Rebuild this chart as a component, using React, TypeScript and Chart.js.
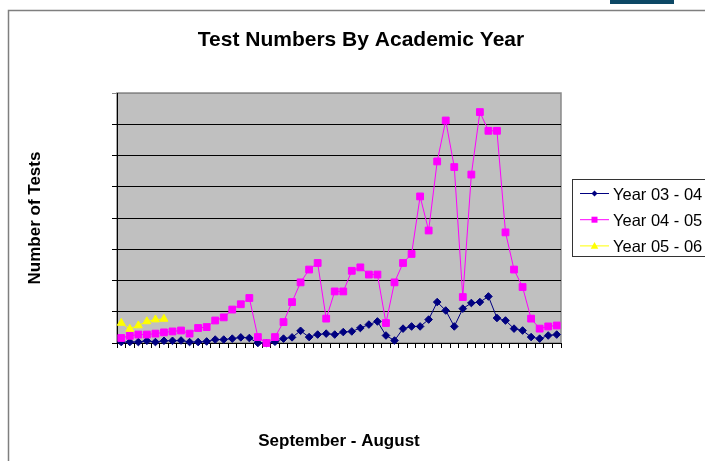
import React, { useEffect, useRef } from "react";
import { Chart, registerables } from "chart.js";

Chart.register(...registerables);

const weeks = [
  "1", "2", "3", "4", "5", "6", "7", "8", "9", "10", "11", "12", "13",
  "14", "15", "16", "17", "18", "19", "20", "21", "22", "23", "24", "25", "26",
  "27", "28", "29", "30", "31", "32", "33", "34", "35", "36", "37", "38", "39",
  "40", "41", "42", "43", "44", "45", "46", "47", "48", "49", "50", "51", "52",
];

const year0304 = [
  0.3, 0.3, 0.3, 0.7, 0.3, 0.7, 0.7, 0.8, 0.3, 0.3, 0.5, 1.1, 1.1, 1.4, 1.8, 1.6,
  0, 0, 0.4, 1.4, 1.8, 3.9, 1.9, 2.7, 3.0, 2.7, 3.5, 3.7, 4.8, 5.9, 6.9, 2.4,
  0.8, 4.6, 5.3, 5.3, 7.5, 13.1, 10.4, 5.3, 11.0, 12.8, 13.1, 14.9, 8.0, 7.2,
  4.6, 4.0, 1.9, 1.4, 2.4, 2.7,
];

const year0405 = [
  1.6, 2.3, 2.7, 2.7, 3.0, 3.4, 3.7, 4.0, 3.0, 4.8, 5.1, 7.2, 8.2, 10.7, 12.4,
  14.4, 1.9, 0, 1.9, 6.7, 13.1, 19.4, 23.5, 25.6, 7.8, 16.5, 16.5, 23.1, 24.2,
  21.9, 21.9, 6.4, 19.4, 25.6, 28.5, 46.9, 36.0, 58.1, 71.2, 56.3, 14.7, 53.9,
  73.9, 67.9, 67.9, 35.4, 23.5, 17.9, 7.8, 4.6, 5.3, 5.6,
];

const year0506 = [6.4, 4.5, 5.6, 6.9, 7.5, 7.7];

const seriesLabels = ["Year 03 - 04", "Year 04 - 05", "Year 05 - 06"];
const seriesColors = ["#000080", "#FF00FF", "#FFFF00"];
const seriesMarkers = ["rectRot", "rect", "triangle"];

const chartTitle = "Test Numbers By Academic Year";
const yTitle = "Number of Tests";
const xTitle = "September - August";

const FONT = '"Liberation Sans", Arial, sans-serif';

function drawMarker(ctx: CanvasRenderingContext2D, style: string, x: number, y: number, r: number, color: string) {
  ctx.save();
  ctx.fillStyle = color;
  ctx.strokeStyle = color;
  ctx.beginPath();
  if (style === "rectRot") {
    ctx.moveTo(x, y - r);
    ctx.lineTo(x + r, y);
    ctx.lineTo(x, y + r);
    ctx.lineTo(x - r, y);
    ctx.closePath();
  } else if (style === "rect") {
    ctx.rect(x - r, y - r, 2 * r, 2 * r);
  } else {
    ctx.moveTo(x, y - r);
    ctx.lineTo(x + r * 0.95, y + r * 0.7);
    ctx.lineTo(x - r * 0.95, y + r * 0.7);
    ctx.closePath();
  }
  ctx.fill();
  ctx.restore();
}

const decorPlugin = {
  id: "decor",
  beforeDraw(chart: any) {
    const ctx = chart.ctx as CanvasRenderingContext2D;
    const { left, top, right, bottom } = chart.chartArea;
    ctx.save();
    ctx.fillStyle = "#ffffff";
    ctx.fillRect(0, 0, chart.width, chart.height);
    // dark tab at top
    ctx.fillStyle = "#0d4865";
    ctx.fillRect(610, 0, 64, 4);
    // outer frame
    ctx.strokeStyle = "#7f7f7f";
    ctx.lineWidth = 1.5;
    ctx.beginPath();
    ctx.moveTo(8.5, chart.height + 5);
    ctx.lineTo(8.5, 10.5);
    ctx.lineTo(chart.width + 5, 10.5);
    ctx.stroke();
    // plot area
    ctx.fillStyle = "#c0c0c0";
    ctx.fillRect(left, top, right - left, bottom - top);
    ctx.strokeStyle = "#8a8a8a";
    ctx.lineWidth = 1.5;
    ctx.strokeRect(left, top, right - left, bottom - top);
    ctx.restore();
  },
  afterDraw(chart: any) {
    const ctx = chart.ctx as CanvasRenderingContext2D;
    ctx.save();
    // title
    ctx.fillStyle = "#000";
    ctx.font = `bold 21px ${FONT}`;
    ctx.textAlign = "center";
    ctx.textBaseline = "alphabetic";
    ctx.fillText(chartTitle, 361, 46);
    // legend
    const bx = 572.5, by = 179.5;
    ctx.fillStyle = "#ffffff";
    ctx.fillRect(bx, by, 200, 77);
    ctx.strokeStyle = "#333";
    ctx.lineWidth = 1;
    ctx.strokeRect(bx, by, 200, 77);
    chart.data.datasets.forEach((ds: any, i: number) => {
      const cy = 193.5 + i * 26.2;
      ctx.strokeStyle = ds.borderColor;
      ctx.lineWidth = 1;
      ctx.beginPath();
      ctx.moveTo(580, cy);
      ctx.lineTo(609, cy);
      ctx.stroke();
      drawMarker(ctx, ds.pointStyle, 594.5, cy, ds.pointStyle === "triangle" ? 4 : 3, ds.borderColor);
      ctx.fillStyle = "#000";
      ctx.font = `16.5px ${FONT}`;
      ctx.textAlign = "left";
      ctx.textBaseline = "alphabetic";
      ctx.fillText(ds.label, 613, cy + 6);
    });
    ctx.restore();
  },
};

export default function App() {
  const ref = useRef<HTMLCanvasElement | null>(null);

  useEffect(() => {
    if (!ref.current) return;
    const seriesData = [year0304, year0405, year0506];
    const radii = [3.8, 4.8, 4.6];
    const chart = new Chart(ref.current, {
      type: "line",
      data: {
        labels: weeks,
        datasets: seriesData.map((d, i) => ({
          label: seriesLabels[i],
          data: d,
          borderColor: seriesColors[i],
          backgroundColor: seriesColors[i],
          borderWidth: 1,
          pointStyle: seriesMarkers[i] as any,
          pointRadius: radii[i],
          pointBorderWidth: 1,
          pointBackgroundColor: seriesColors[i],
          pointBorderColor: seriesColors[i],
          tension: 0,
          fill: false,
          clip: false as any,
          order: 2 - i,
        })),
      },
      options: {
        responsive: false,
        animation: false,
        devicePixelRatio: 1,
        layout: { padding: { left: 25, top: 93, right: 144, bottom: 9.8 } },
        plugins: {
          legend: { display: false },
          title: { display: false },
          tooltip: { enabled: false },
        },
        scales: {
          x: {
            type: "category",
            offset: true,
            grid: {
              offset: true,
              drawOnChartArea: false,
              drawTicks: true,
              tickLength: 5,
              color: "#000",
              lineWidth: 1,
            },
            border: { display: true, color: "#000", width: 1 },
            ticks: { display: false },
            title: {
              display: true,
              text: xTitle,
              color: "#000",
              font: { family: FONT, size: 17, weight: "bold" },
              padding: 0,
            },
            afterFit: (scale: any) => {
              scale.height = 108.2;
            },
          },
          y: {
            min: 0,
            max: 80,
            ticks: { display: false, stepSize: 10 },
            grid: {
              drawTicks: true,
              tickLength: 5,
              lineWidth: 1,
              color: (c: any) => (c.tick && c.tick.value === 80 ? "#8a8a8a" : "#000"),
            },
            border: { display: true, color: "#000", width: 1 },
            title: {
              display: true,
              text: yTitle,
              color: "#000",
              font: { family: FONT, size: 17, weight: "bold" },
              padding: 0,
            },
            afterFit: (scale: any) => {
              scale.width = 92;
            },
          },
        },
      },
      plugins: [decorPlugin],
    });
    return () => chart.destroy();
  }, []);

  return (
    <div style={{ position: "absolute", left: 0, top: 0, width: 705, height: 461 }}>
      <canvas ref={ref} width={705} height={461} style={{ display: "block", width: 705, height: 461 }} />
    </div>
  );
}
